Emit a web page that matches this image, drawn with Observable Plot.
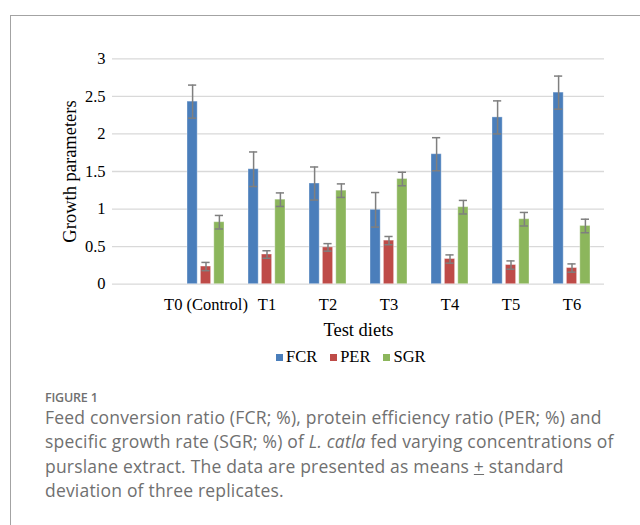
<!DOCTYPE html>
<html>
<head>
<meta charset="utf-8">
<script src="https://cdn.jsdelivr.net/npm/d3@7"></script>
<script src="https://cdn.jsdelivr.net/npm/@observablehq/plot@0.6"></script>
<style>
  html, body { margin: 0; padding: 0; background: #fff; overflow: hidden; }
  #wrap { position: relative; width: 640px; height: 525px; overflow: hidden; }
  #frame { position: absolute; left: 10px; top: 15px; width: 700px; height: 600px;
           border-top: 1.5px solid #a3a3a3; border-left: 1.5px solid #a3a3a3; }
  #chart { position: absolute; left: 0; top: 0; }
  #legend { position: absolute; left: 276px; top: 347px; font-family: "Liberation Serif", serif;
            font-size: 16.5px; color: #000; display: flex; align-items: center; white-space: nowrap; }
  #legend .item { display: flex; align-items: center; margin-right: 13px; }
  #legend .sw { width: 7px; height: 7px; margin-right: 3px; }
  #figlabel { position: absolute; left: 45px; top: 389px; font-family: "Open Sans", sans-serif;
              font-weight: 600; font-size: 12.5px; color: #707070; letter-spacing: -0.2px; }
  #caption { position: absolute; left: 45px; top: 405px; font-family: "Open Sans", sans-serif;
             font-size: 17.5px; line-height: 24.3px; color: #707070; white-space: nowrap; letter-spacing: 0.2px; }
</style>
</head>
<body>
<div id="wrap">
  <div id="frame"></div>
  <div id="chart"></div>
  <div id="legend"></div>
  <div id="figlabel">FIGURE 1</div>
  <div id="caption">Feed conversion ratio (FCR; %), protein efficiency ratio (PER; %) and<br>specific growth rate (SGR; %) of <i>L. catla</i> fed varying concentrations of<br>purslane extract. The data are presented as means <u>+</u> standard<br>deviation of three replicates.</div>
</div>
<script>
// ---- data ----
const diets = ["", "T0 (Control)", "T1", "T2", "T3", "T4", "T5", "T6"];
const seriesNames = ["FCR", "PER", "SGR"];
const seriesColors = ["#4a7ebb", "#be4b48", "#8cb65c"];
const fcr   = [null, 2.43, 1.53, 1.34, 0.99, 1.73, 2.22, 2.55];
const fcrSd = [null, 0.22, 0.23, 0.22, 0.23, 0.22, 0.22, 0.22];
const per   = [null, 0.235, 0.395, 0.49, 0.58, 0.335, 0.255, 0.215];
const perSd = [null, 0.055, 0.05, 0.05, 0.055, 0.055, 0.055, 0.055];
const sgr   = [null, 0.825, 1.125, 1.245, 1.40, 1.025, 0.865, 0.775];
const sgrSd = [null, 0.09, 0.09, 0.09, 0.09, 0.09, 0.09, 0.09];
const yTicks = [0, 0.5, 1, 1.5, 2, 2.5, 3];
const xTitle = "Test diets";
const yTitle = "Growth parameters";

const values = [fcr, per, sgr];
const sds = [fcrSd, perSd, sgrSd];
const rows = seriesNames.map((name, s) =>
  diets.map((d, i) => ({diet: d, series: name, value: values[s][i], sd: sds[s][i]}))
       .filter(r => r.value != null));

// ---- layout ----
const W = 640, H = 345, mL = 112, mR = 36, mT = 58.3, mB = H - 283.7;
const bw = (W - mL - mR) / diets.length;   // band width
const barW = 10.7, step = 13.4, capW = 8.7;
const offs = [-step, 0, step];

const marks = [Plot.ruleY(yTicks, {y: d => d, stroke: "#d9d9d9", strokeWidth: 1.3})];
rows.forEach((data, s) => {
  const c = bw / 2 + offs[s];
  marks.push(Plot.barY(data, {
    x: "diet", y: "value", fill: seriesColors[s],
    stroke: "#ffffff", strokeOpacity: 0.35, strokeWidth: 1,
    insetLeft: c - barW / 2, insetRight: bw - c - barW / 2
  }));
});
rows.forEach((data, s) => {
  const c = bw / 2 + offs[s];
  marks.push(Plot.ruleX(data, {
    x: "diet", y1: d => d.value - d.sd, y2: d => d.value + d.sd,
    dx: offs[s], stroke: "#7f7f7f", strokeWidth: 1.5
  }));
  marks.push(Plot.tickY(data, {
    x: "diet", y: d => d.value + d.sd, stroke: "#7f7f7f", strokeWidth: 1.5,
    insetLeft: c - capW / 2, insetRight: bw - c - capW / 2
  }));
  marks.push(Plot.tickY(data, {
    x: "diet", y: d => d.value - d.sd, stroke: "#7f7f7f", strokeWidth: 1.5,
    insetLeft: c - capW / 2, insetRight: bw - c - capW / 2
  }));
});
marks.push(Plot.text([yTitle], {text: d => d, frameAnchor: "left", dx: -42, rotate: -90,
  textAnchor: "middle", lineAnchor: "middle",
  fontSize: 18.5, fill: "#000", fontFamily: "Liberation Serif"}));
marks.push(Plot.text([xTitle], {text: d => d, frameAnchor: "bottom", dy: 46,
  fontSize: 18.5, fill: "#000", fontFamily: "Liberation Serif", lineAnchor: "middle"}));

const chart = Plot.plot({
  width: W, height: H,
  marginLeft: mL, marginRight: mR, marginTop: mT, marginBottom: mB,
  style: {fontFamily: "Liberation Serif", fontSize: "16.5px", color: "#000", background: "transparent", overflow: "visible"},
  x: {domain: diets, padding: 0, tickSize: 0, tickPadding: 14, label: null},
  y: {domain: [0, 3], ticks: yTicks, tickFormat: d => String(d), tickSize: 0, tickPadding: 7, label: null},
  marks
});
document.getElementById("chart").appendChild(chart);

// legend
const lg = document.getElementById("legend");
seriesNames.forEach((n, i) => {
  const it = document.createElement("div"); it.className = "item";
  const sw = document.createElement("div"); sw.className = "sw"; sw.style.background = seriesColors[i];
  const t = document.createElement("span"); t.textContent = n;
  it.appendChild(sw); it.appendChild(t); lg.appendChild(it);
});
</script>
</body>
</html>
